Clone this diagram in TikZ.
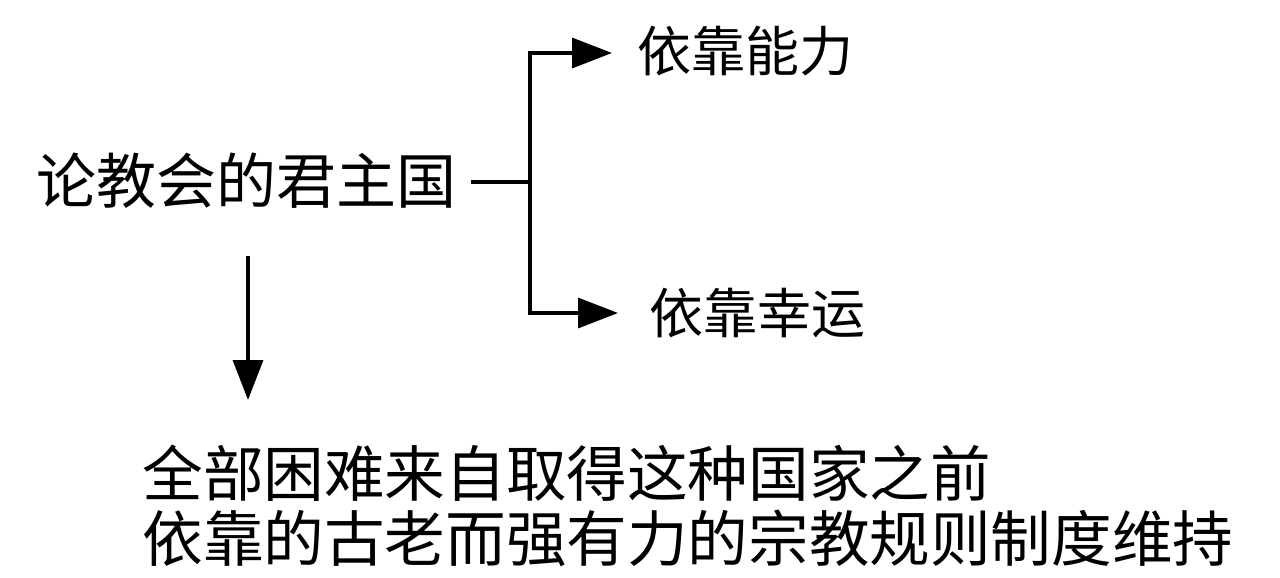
\documentclass[tikz,border=0pt]{standalone}
\usepackage{fontspec}
\setmainfont{Noto Sans CJK SC}
\usetikzlibrary{arrows.meta}
\begin{document}
\begin{tikzpicture}[x=0.5pt,y=-0.5pt,
  lbl/.style={inner sep=0pt, anchor=base west, font=\fontsize{30pt}{32.5pt}\selectfont},
  sublbl/.style={inner sep=0pt, anchor=base west, font=\fontsize{27pt}{30pt}\selectfont},
  conn/.style={line width=1.7pt},
  arr/.style={conn, -{Triangle[length=20pt,width=15pt]}}]
\useasboundingbox (0,0) rectangle (1280,578);
\node[lbl] (main) at (36,203) {论教会的君主国};
\node[sublbl] (a) at (637,71) {依靠能力};
\node[sublbl] (b) at (649,333) {依靠幸运};
\node[lbl, align=left, font=\fontsize{30.3pt}{32.5pt}\selectfont] (c) at (142,561) {全部困难来自取得这种国家之前\\依靠的古老而强有力的宗教规则制度维持};
\coordinate (j) at (530,182);
\coordinate (jt) at (530,53);
\coordinate (jb) at (530,313);
\coordinate (ta) at (612,53);
\coordinate (tb) at (618,313);
\coordinate (d0) at (248,256);
\coordinate (d1) at (248,400);
\draw[conn, shorten <=7pt] (main.east |- j) -- (j);
\draw[arr] (j) -- (jt) -- (ta);
\draw[arr] (j) -- (jb) -- (tb);
\draw[arr] (d0) -- (d1);
\end{tikzpicture}
\end{document}
